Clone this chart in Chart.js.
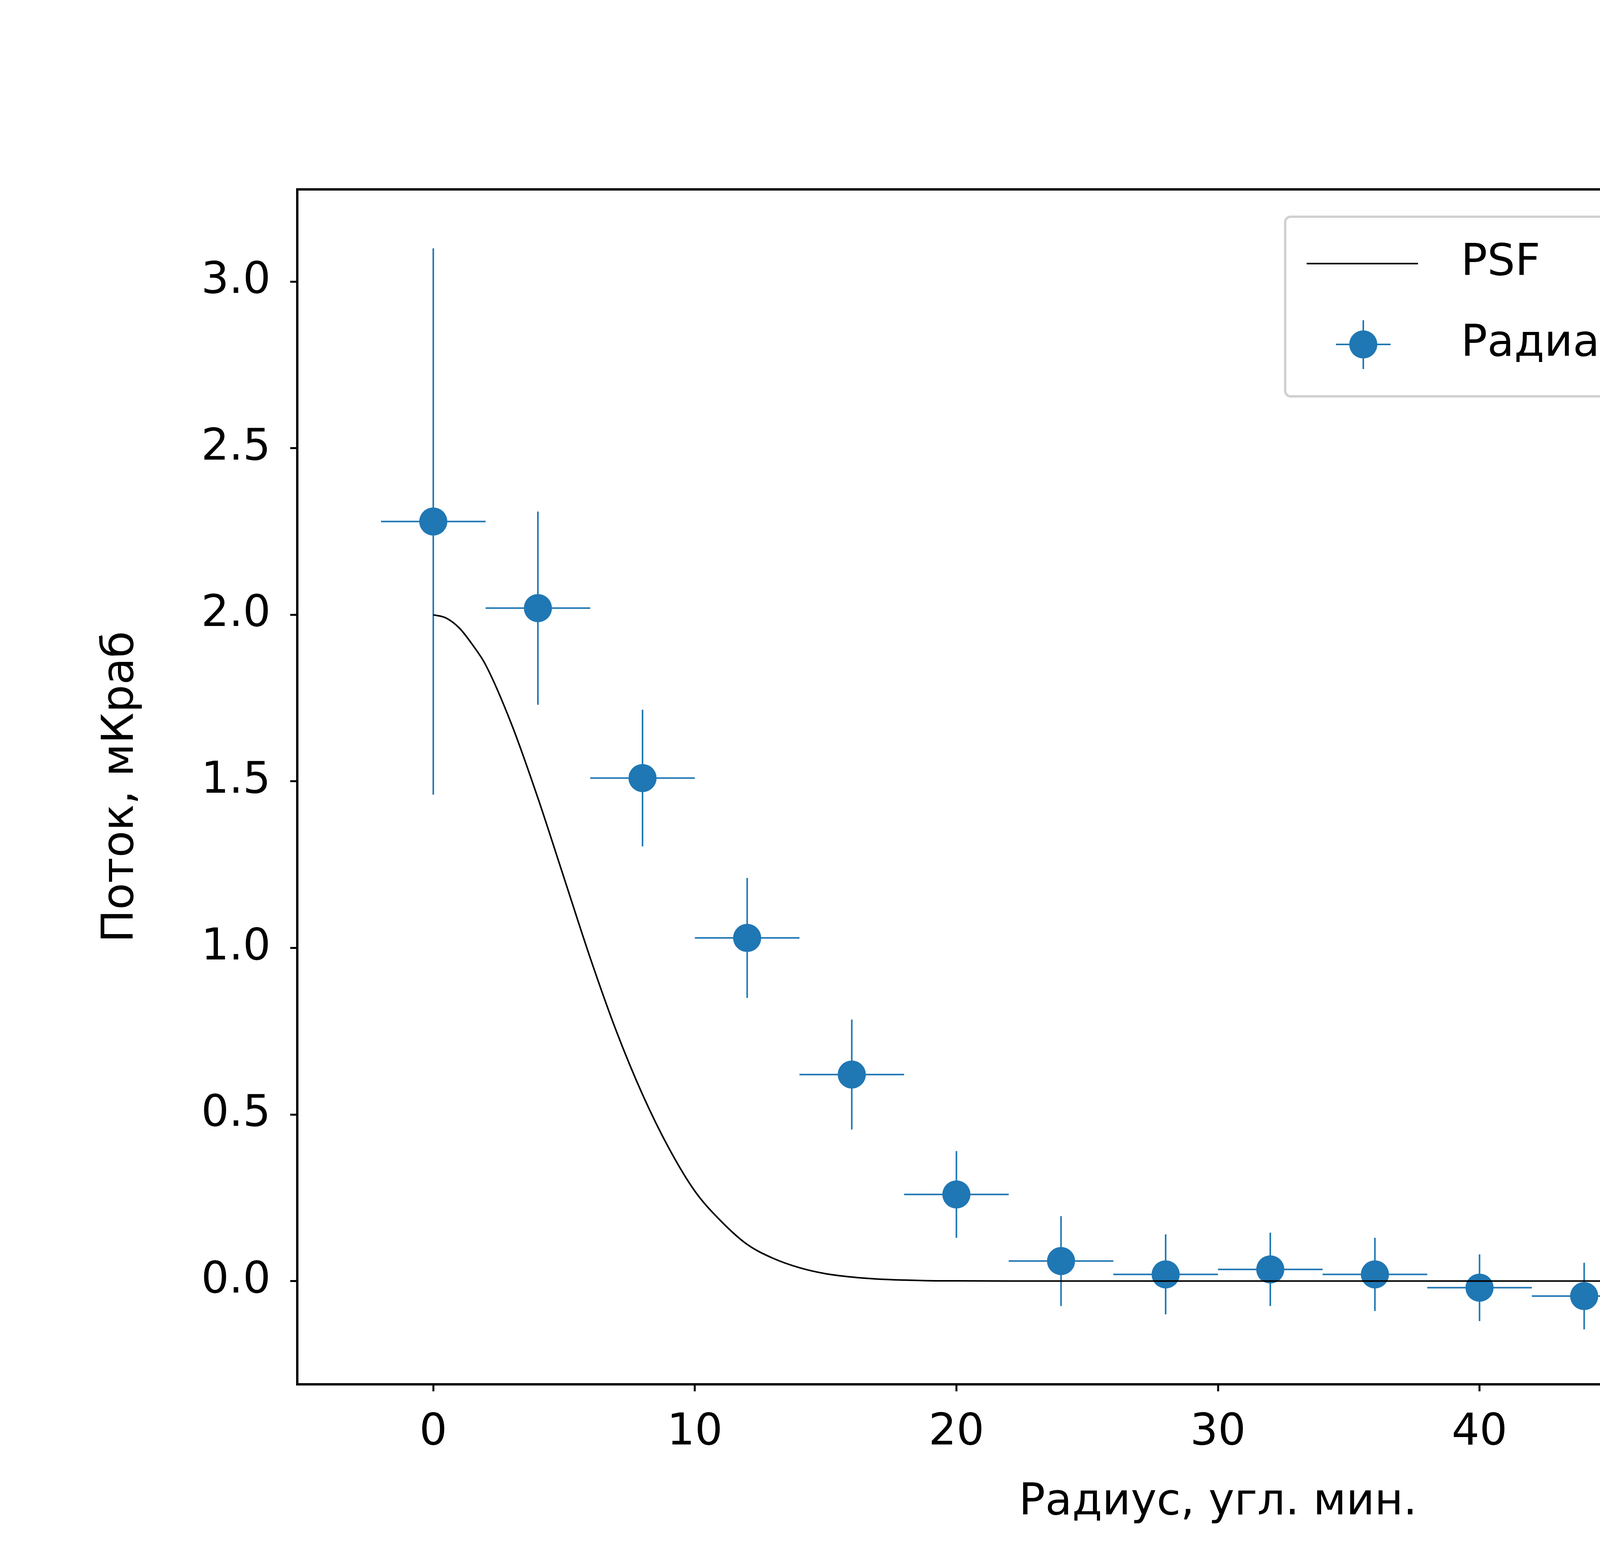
<!DOCTYPE html>
<html>
<head>
<meta charset="UTF-8" />
<script src="https://cdn.jsdelivr.net/npm/chart.js"></script>
<style>
  body { margin: 0; background: white; }
  canvas { display: block; }
</style>
</head>
<body>
<canvas id="chart" width="6000" height="4000" style="width:6000px;height:4000px"></canvas>
<script>
const radius = [0, 4, 8, 12, 16, 20, 24, 28, 32, 36, 40, 44, 48, 52, 56, 60];
const flux = [2.28, 2.02, 1.51, 1.03, 0.62, 0.26, 0.06, 0.02, 0.035, 0.02, -0.02, -0.045, -0.04, 0.005, 0.02, 0.015];
const fluxErr = [0.82, 0.29, 0.205, 0.18, 0.165, 0.13, 0.135, 0.12, 0.11, 0.11, 0.1, 0.1, 0.09, 0.08, 0.085, 0.085];
const radiusErr = 2;
const psfX = [0, 0.5, 1, 1.5, 2, 3, 4, 5, 6, 7, 8, 9, 10, 11, 12, 13, 14, 15, 16, 17, 18, 19, 20, 22, 25, 30, 40, 50, 62];
const psfY = [2.0, 1.99, 1.96, 1.91, 1.85, 1.67, 1.45, 1.21, 0.97, 0.75, 0.56, 0.40, 0.27, 0.18, 0.11, 0.068, 0.04, 0.022, 0.012, 0.006, 0.003, 0.001, 0.0005, 0, 0, 0, 0, 0, 0];
const xTicks = [0, 10, 20, 30, 40, 50, 60];
const yTicks = [0, 0.5, 1.0, 1.5, 2.0, 2.5, 3.0];

const blue = '#1f77b4';
const font = { family: 'DejaVu Sans', size: 112 };

// error bars, frame and legend
const extras = {
  id: 'extras',
  beforeDatasetsDraw(chart) {
    const { ctx, scales: { x, y } } = chart;
    ctx.save();
    ctx.strokeStyle = blue;
    ctx.lineWidth = 4;
    radius.forEach((r, i) => {
      ctx.beginPath();
      ctx.moveTo(x.getPixelForValue(r - radiusErr), y.getPixelForValue(flux[i]));
      ctx.lineTo(x.getPixelForValue(r + radiusErr), y.getPixelForValue(flux[i]));
      ctx.moveTo(x.getPixelForValue(r), y.getPixelForValue(flux[i] - fluxErr[i]));
      ctx.lineTo(x.getPixelForValue(r), y.getPixelForValue(flux[i] + fluxErr[i]));
      ctx.stroke();
    });
    ctx.restore();
  },
  afterDraw(chart) {
    const { ctx, chartArea: a } = chart;
    ctx.save();
    ctx.strokeStyle = '#000';
    ctx.lineWidth = 6;
    ctx.strokeRect(a.left, a.top, a.right - a.left, a.bottom - a.top);
    // legend
    const lx = 3290, ly = 555, lw = 2115, lh = 460;
    ctx.fillStyle = 'rgba(255,255,255,0.8)';
    ctx.strokeStyle = '#d0d0d0';
    ctx.lineWidth = 6;
    ctx.beginPath();
    ctx.roundRect(lx, ly, lw, lh, 14);
    ctx.fill();
    ctx.stroke();
    ctx.strokeStyle = '#000';
    ctx.lineWidth = 4;
    ctx.beginPath();
    ctx.moveTo(3345, 675); ctx.lineTo(3630, 675);
    ctx.stroke();
    ctx.strokeStyle = blue;
    ctx.beginPath();
    ctx.moveTo(3420, 882); ctx.lineTo(3560, 882);
    ctx.moveTo(3490, 820); ctx.lineTo(3490, 945);
    ctx.stroke();
    ctx.fillStyle = blue;
    ctx.beginPath();
    ctx.arc(3490, 882, 36, 0, Math.PI * 2);
    ctx.fill();
    ctx.fillStyle = '#000';
    ctx.font = '112px "DejaVu Sans"';
    ctx.textBaseline = 'middle';
    ctx.fillText('PSF', 3740, 675);
    ctx.fillText('Радиальный профиль', 3740, 882);
    ctx.restore();
  }
};

new Chart(document.getElementById('chart'), {
  type: 'scatter',
  data: {
    datasets: [
      {
        label: 'PSF', type: 'line',
        data: psfX.map((v, i) => ({ x: v, y: psfY[i] })),
        borderColor: '#000', borderWidth: 4, pointRadius: 0, cubicInterpolationMode: 'monotone', fill: false
      },
      {
        label: 'Радиальный профиль',
        data: radius.map((v, i) => ({ x: v, y: flux[i] })),
        backgroundColor: blue, borderColor: blue, pointRadius: 36, pointBorderWidth: 0
      }
    ]
  },
  options: {
    responsive: false, animation: false, devicePixelRatio: 1,
    layout: { padding: { top: 485, right: 525, left: 240, bottom: 80 } },
    plugins: { legend: { display: false }, tooltip: { enabled: false } },
    scales: {
      x: {
        type: 'linear', min: -5.2, max: 65.2,
        afterBuildTicks: s => { s.ticks = xTicks.map(v => ({ value: v })); },
        afterFit: s => { s.height = 375; },
        ticks: { color: '#000', font, padding: 40, maxRotation: 0 },
        grid: { drawOnChartArea: false, tickLength: 18, tickWidth: 5, color: '#000' },
        border: { display: false },
        title: { display: true, text: 'Радиус, угл. мин.', color: '#000', font, padding: { top: 10 } }
      },
      y: {
        type: 'linear', min: -0.31, max: 3.277,
        afterBuildTicks: s => { s.ticks = yTicks.map(v => ({ value: v })); },
        afterFit: s => { s.width = 521; },
        ticks: { color: '#000', font, padding: 50, callback: v => v.toFixed(1) },
        grid: { drawOnChartArea: false, tickLength: 18, tickWidth: 5, color: '#000' },
        border: { display: false },
        title: { display: true, text: 'Поток, мКраб', color: '#000', font, padding: { bottom: 20 } }
      }
    }
  },
  plugins: [extras]
});
</script>
</body>
</html>
